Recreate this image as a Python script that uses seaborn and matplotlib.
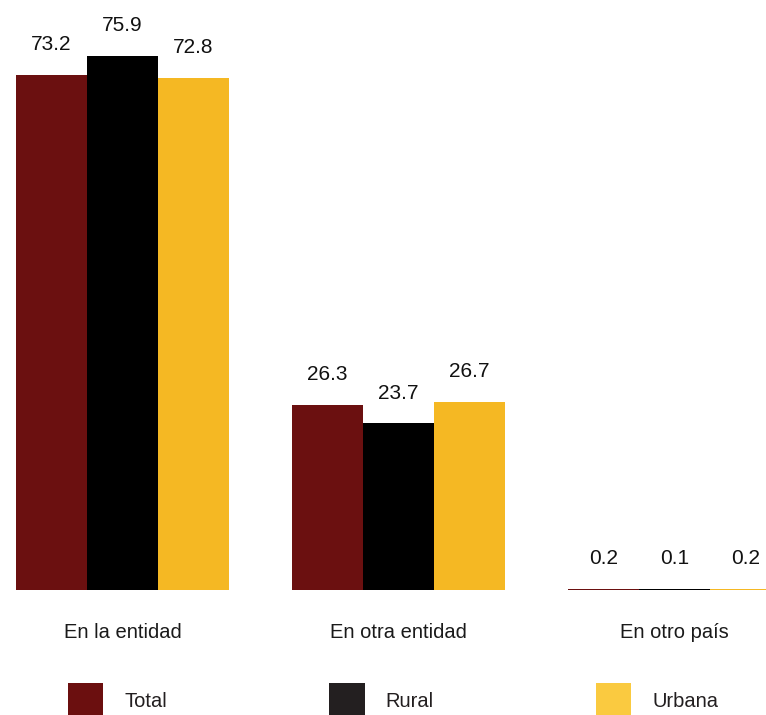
import pandas as pd
import matplotlib.pyplot as plt
import seaborn as sns
from matplotlib.patches import Patch

categorias = ["En la entidad", "En otra entidad", "En otro país"]
series = ["Total", "Rural", "Urbana"]
total = [73.2, 26.3, 0.2]
rural = [75.9, 23.7, 0.1]
urbana = [72.8, 26.7, 0.2]

colores_barras = ["#6B1010", "#000000", "#F5B823"]
colores_leyenda = ["#6B0F0F", "#231F20", "#FACA40"]

df = pd.DataFrame({
    "categoria": categorias * 3,
    "serie": [s for s in series for _ in categorias],
    "valor": total + rural + urbana,
})

sns.set_style("white")
plt.rcParams['font.family'] = ['Liberation Sans', 'DejaVu Sans']

fig = plt.figure(figsize=(7.66, 7.15), dpi=100)
ax = fig.add_axes([0, 125 / 715, 1, 590 / 715])

sns.barplot(data=df, x="categoria", y="valor", hue="serie", order=categorias,
            hue_order=series, palette=colores_barras, width=0.772, gap=0,
            saturation=1, linewidth=0, legend=False, ax=ax)

for cont in ax.containers:
    ax.bar_label(cont, fmt="%.1f", padding=15, fontsize=15, color="#111111")

ax.set_xlim(-0.444, 2.332)
ax.set_ylim(0, 83.9)
ax.set_xlabel("")
ax.set_ylabel("")
ax.set_yticks([])
ax.tick_params(axis="x", length=0, pad=24, labelsize=14.5, labelcolor="#1a1a1a")
sns.despine(ax=ax, left=True, bottom=True)

handles = [Patch(facecolor=c, edgecolor="none") for c in colores_leyenda]
fig.legend(handles, series, loc="center left", bbox_to_anchor=(68 / 766, 1 - 701 / 715),
           ncol=3, frameon=False, fontsize=14.5, labelcolor="#231F20",
           handlelength=1.75, handleheight=2.3, handletextpad=1.05,
           columnspacing=8.05, borderpad=0, borderaxespad=0)

fig.savefig("out.png", dpi=100, facecolor="white")
